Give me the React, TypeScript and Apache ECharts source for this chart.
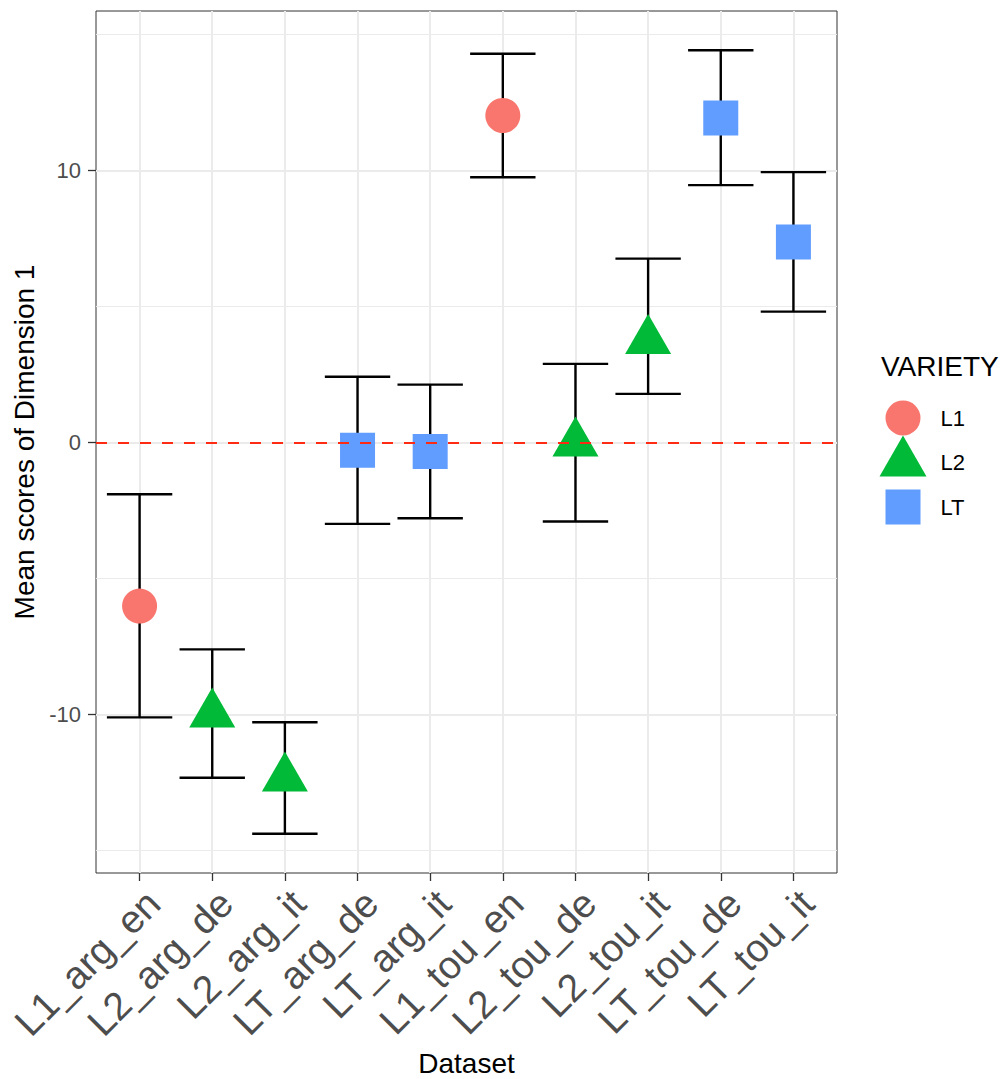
import React, { useEffect, useRef } from 'react';
import * as echarts from 'echarts';

const categories = ['L1_arg_en', 'L2_arg_de', 'L2_arg_it', 'LT_arg_de', 'LT_arg_it', 'L1_tou_en', 'L2_tou_de', 'L2_tou_it', 'LT_tou_de', 'LT_tou_it'];
const varieties = ['L1', 'L2', 'L2', 'LT', 'LT', 'L1', 'L2', 'L2', 'LT', 'LT'];
const means = [-6.01, -9.98, -12.34, -0.28, -0.33, 12.02, -0.02, 3.74, 11.93, 7.37];
const lowers = [-10.10, -12.32, -14.38, -2.99, -2.78, 9.75, -2.90, 1.79, 9.46, 4.81];
const uppers = [-1.90, -7.60, -10.28, 2.42, 2.13, 14.29, 2.89, 6.76, 14.42, 9.94];
const yTicks = [-10, 0, 10];
const yMinorTicks = [-15, -5, 5, 15];
const varietyNames = ['L1', 'L2', 'LT'];
const varietyColors = ['#F8766D', '#00BA38', '#619CFF'];

const FONT = 'Liberation Sans, Arial, Helvetica, sans-serif';

const legendIcons = [
  'path://M0,0M56,55M6,27.5A17.5,17.5,0,1,1,41,27.5A17.5,17.5,0,1,1,6,27.5Z',
  'path://M0,0M56,55M0,41.5L23.5,0.5L47,41.5Z',
  'path://M0,0M56,55M6,10H41V45H6Z',
];

export default function App() {
  const ref = useRef<HTMLDivElement>(null);

  useEffect(() => {
    document.body.style.margin = '0';
    if (!ref.current) return;
    const chart = echarts.init(ref.current, null, { renderer: 'svg' });
    const idx = categories.map((_, i) => i);

    const symbolOf: Record<string, any> = {
      L1: { symbol: 'circle', symbolSize: 35, symbolOffset: [0, 0] },
      L2: { symbol: 'triangle', symbolSize: [46, 40], symbolOffset: [0, -6.7] },
      LT: { symbol: 'rect', symbolSize: 35, symbolOffset: [0, 0] },
    };

    const scatterSeries = varietyNames.map((name, k) => ({
      type: 'scatter',
      name,
      z: 3,
      ...symbolOf[name],
      itemStyle: { color: varietyColors[k], opacity: 1 },
      data: idx.filter((i) => varieties[i] === name).map((i) => [i, means[i]]),
      ...(k === varietyNames.length - 1
        ? {
            markLine: {
              silent: true,
              symbol: 'none',
              z: 6,
              label: { show: false },
              lineStyle: { color: '#ff2a12', type: [11, 11], width: 2 },
              data: [{ yAxis: 0 }],
            },
          }
        : {}),
    }));

    const option: any = {
      animation: false,
      backgroundColor: '#ffffff',
      title: {
        text: 'VARIETY',
        left: 881,
        top: 352,
        padding: 0,
        textStyle: { fontSize: 28, fontWeight: 'normal', color: '#000', fontFamily: FONT },
      },
      legend: {
        orient: 'vertical',
        left: 879.5,
        top: 418 - 27.5,
        itemWidth: 56,
        itemHeight: 55,
        itemGap: -10.5,
        padding: 0,
        selectedMode: false,
        textStyle: { fontSize: 22, color: '#000', fontFamily: FONT },
        data: varietyNames.map((n, k) => ({ name: n, icon: legendIcons[k] })),
      },
      grid: {
        left: 96,
        right: 168,
        top: 11,
        bottom: 206,
        show: true,
        borderColor: '#333333',
        borderWidth: 1,
        backgroundColor: '#ffffff',
        containLabel: false,
        outerBoundsMode: 'none',
      },
      xAxis: {
        type: 'value',
        min: -0.6,
        max: 9.6,
        position: 'bottom',
        axisLine: { show: false, onZero: false },
        axisTick: { show: true, length: 8, customValues: idx, lineStyle: { color: '#333333', width: 1.3 } },
        axisLabel: {
          customValues: idx,
          formatter: (v: number) => categories[Math.round(v)] ?? '',
          rotate: 45,
          align: 'right',
          verticalAlign: 'top',
          fontSize: 39,
          color: '#4d4d4d',
          margin: 10,
          fontFamily: FONT,
        },
        splitLine: { show: true, lineStyle: { color: '#ebebeb', width: 2 } },
        name: 'Dataset',
        nameLocation: 'middle',
        nameGap: 176,
        nameMoveOverlap: false,
        nameTextStyle: { fontSize: 28, color: '#000', fontFamily: FONT },
      },
      yAxis: [
        {
          type: 'value',
          min: -15.82,
          max: 15.86,
          axisLine: { show: false, onZero: false },
          axisTick: { show: true, length: 8, customValues: yTicks, lineStyle: { color: '#333333', width: 1.3 } },
          axisLabel: { customValues: yTicks, fontSize: 22, color: '#4d4d4d', margin: 15, fontFamily: FONT },
          splitLine: { show: true, lineStyle: { color: '#ebebeb', width: 2 } },
          name: 'Mean scores of Dimension 1',
          nameLocation: 'middle',
          nameRotate: 90,
          nameGap: 58,
          nameMoveOverlap: false,
          nameTextStyle: { fontSize: 28, color: '#000', fontFamily: FONT },
        },
        {
          type: 'value',
          min: -15.82,
          max: 15.86,
          position: 'left',
          axisLine: { show: false, onZero: false },
          axisTick: { show: false, customValues: yMinorTicks },
          axisLabel: { show: false, customValues: yMinorTicks },
          splitLine: { show: true, lineStyle: { color: '#ebebeb', width: 1.2 } },
        },
      ],
      series: [
        {
          type: 'custom',
          name: 'errorbars',
          z: 2,
          encode: { x: 0, y: [1, 2] },
          data: idx.map((i) => [i, lowers[i], uppers[i]]),
          renderItem: (_params: any, api: any) => {
            const x = api.value(0);
            const lo = api.value(1);
            const hi = api.value(2);
            const a = api.coord([x, lo]);
            const b = api.coord([x, hi]);
            const hw = api.size([0.9, 0])[0] / 2;
            const style = { stroke: '#000000', lineWidth: 2.4, fill: null };
            return {
              type: 'group',
              children: [
                { type: 'line', shape: { x1: a[0], y1: a[1], x2: b[0], y2: b[1] }, style },
                { type: 'line', shape: { x1: a[0] - hw, y1: a[1], x2: a[0] + hw, y2: a[1] }, style },
                { type: 'line', shape: { x1: b[0] - hw, y1: b[1], x2: b[0] + hw, y2: b[1] }, style },
              ],
            };
          },
        },
        ...scatterSeries,
      ],
    };

    chart.setOption(option);
    return () => chart.dispose();
  }, []);

  return (
    <div
      ref={ref}
      style={{ position: 'absolute', left: 0, top: 0, width: 1005, height: 1079 }}
    />
  );
}
